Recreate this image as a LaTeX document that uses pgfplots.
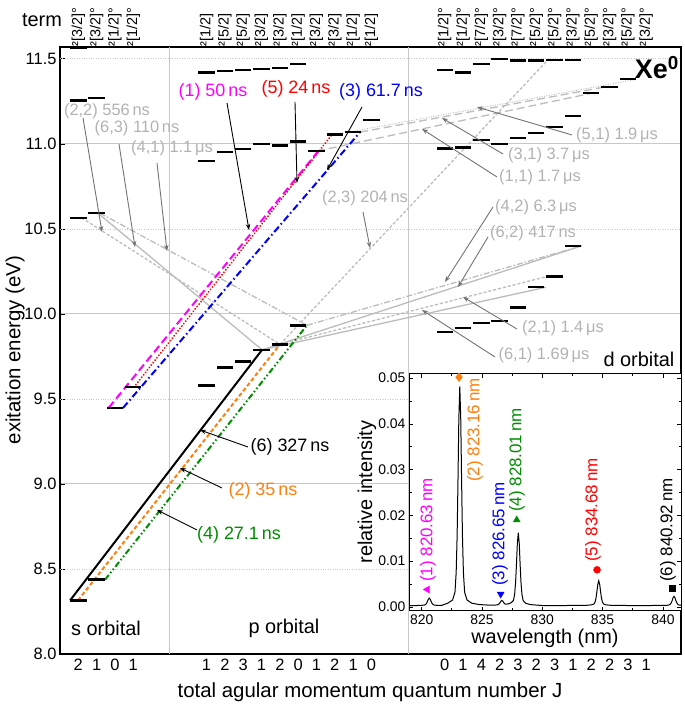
\documentclass[border=0pt]{standalone}
\usepackage{pgfplots}
\pgfplotsset{compat=1.18}
\usepackage{pgfplotstable}
\usepackage{fontspec}
\setmainfont{Liberation Sans}
\usetikzlibrary{arrows.meta}

\definecolor{cmag}{RGB}{255,0,255}
\definecolor{cred}{RGB}{255,0,0}
\definecolor{cblue}{RGB}{0,0,255}
\definecolor{corange}{RGB}{255,127,14}
\definecolor{cgreen}{RGB}{0,140,0}
\definecolor{lgrey}{RGB}{188,188,188}
\definecolor{tgrey}{RGB}{178,178,178}
\definecolor{agrey}{RGB}{115,115,115}
\definecolor{gridgrey}{RGB}{200,200,200}

\newcommand\fs[1]{\fontsize{#1}{#1}\selectfont}

\pgfplotstableread{
x y
1 8.315
2 8.437
3 9.447
4 9.570
1 10.563
2 10.593
1 11.255
2 11.270
1 11.565
8 9.580
9 9.686
10 9.721
11 9.789
12 9.821
13 9.933
8 10.900
9 10.953
10 10.970
11 11.000
12 10.990
13 11.013
8 11.420
9 11.430
10 11.435
11 11.440
12 11.447
13 11.470
14 10.958
15 11.055
16 11.069
17 11.140
21 9.894
22 9.917
23 9.945
24 9.958
25 10.039
26 10.157
27 10.220
28 10.401
21 10.972
22 10.980
23 11.022
24 11.000
25 11.035
26 11.065
27 11.100
28 11.163
29 11.300
30 11.335
31 11.380
21 11.435
22 11.420
23 11.470
24 11.500
25 11.490
26 11.490
27 11.495
28 11.495
}\levels

\pgfplotstableread{
x y
819.00 0.0003
819.63 0.0003
820.03 0.00034
820.23 0.0004
820.33 0.00054
820.41 0.0008
820.48 0.0012
820.55 0.00166
820.63 0.0019
820.71 0.00166
820.78 0.0012
820.85 0.0008
820.93 0.00054
821.03 0.0004
821.23 0.00034
821.63 0.0003
822.16 0.0008
822.56 0.0015
822.76 0.0032
822.86 0.0075
822.94 0.0156
823.01 0.0276
823.08 0.0410
823.16 0.0482
823.24 0.0410
823.31 0.0276
823.38 0.0156
823.46 0.0075
823.56 0.0032
823.76 0.0015
824.16 0.0008
824.80 0.0005
825.50 0.0004
826.05 0.0004
826.25 0.00042
826.35 0.0005
826.43 0.00068
826.50 0.00095
826.57 0.00125
826.65 0.0014
826.73 0.00125
826.80 0.00095
826.87 0.0007
826.95 0.0006
827.05 0.0006
827.25 0.0007
827.41 0.0009
827.61 0.0014
827.71 0.0028
827.79 0.0055
827.86 0.0094
827.93 0.0138
828.01 0.0162
828.09 0.0138
828.16 0.0094
828.23 0.0055
828.31 0.0028
828.41 0.0014
828.61 0.0008
829.01 0.0005
830.00 0.0003
832.00 0.0003
833.68 0.00035
834.08 0.00044
834.28 0.00062
834.38 0.0011
834.46 0.0020
834.53 0.0034
834.60 0.0049
834.68 0.0057
834.76 0.0049
834.83 0.0034
834.90 0.0020
834.98 0.0011
835.08 0.00062
835.28 0.00044
835.68 0.00035
837.00 0.0003
839.00 0.0003
839.92 0.00032
840.32 0.00035
840.52 0.00042
840.62 0.0006
840.70 0.00094
840.77 0.0014
840.84 0.0020
840.92 0.0023
841.00 0.0020
841.07 0.0014
841.14 0.00094
841.22 0.0006
841.32 0.00042
841.50 0.00035
}\spectrum

\begin{document}
\begin{tikzpicture}[x=1bp,y=1bp]
\path[use as bounding box] (0,0) rectangle (685,706);

% ---------------- main diagram ----------------
\begin{axis}[
  at={(60bp,52bp)}, anchor=south west, scale only axis,
  width=621bp, height=607bp,
  xmin=0, xmax=33.9, ymin=8, ymax=11.57,
  axis line style={line width=1.1bp, black},
  xtick={1,2,3,4,8,9,10,11,12,13,14,15,16,17,21,22,23,24,25,26,27,28,29,30,31,32},
  xticklabels={2,1,0,1,1,2,3,1,2,0,1,2,1,0,0,1,4,2,3,2,3,1,2,2,3,1},
  x tick style={draw=none},
  xtick pos=bottom, ytick pos=left,
  ytick={8,8.5,...,11.5},
  y tick style={black, line width=0.8bp},
  major tick length=5bp,
  tick align=inside,
  minor ytick={9,10,11},
  yminorgrids=true,
  minor grid style={gridgrey, line width=1bp},
  minor tick length=0pt,
  extra y ticks={8.5,9.5,10.5,11.5},
  extra y tick labels={},
  extra y tick style={ymajorgrids=true, major grid style={gridgrey, dotted, line width=0.8bp}, major tick length=0pt},
  extra x ticks={6,19},
  extra x tick labels={},
  extra x tick style={xmajorgrids=true, major grid style={gridgrey, line width=1bp}},
  tick label style={font=\fs{16.5}},
  x tick label style={yshift=-2bp},
  y tick label style={/pgf/number format/.cd, fixed, fixed zerofill, precision=1},
  /pgf/number format/assume math mode=true,
]
% grey transitions
\addplot[lgrey, line width=1.3bp, dash pattern=on 3bp off 2bp] coordinates {(1.18,10.565) (12.01,9.821)};
\addplot[lgrey, line width=1.3bp] coordinates {(2.07,10.593) (11.03,9.789)};
\addplot[lgrey, line width=1.3bp, dash pattern=on 6bp off 2bp on 1.5bp off 2bp] coordinates {(2.18,10.593) (13.48,9.933)};
\addplot[lgrey, line width=1.3bp, dash pattern=on 3bp off 2bp] coordinates {(12.01,9.821) (26.64,11.495)};
\addplot[lgrey, line width=1.3bp, dash pattern=on 6bp off 2bp on 1.5bp off 2bp] coordinates {(13.48,9.933) (28.5,10.401)};
\addplot[lgrey, line width=1.3bp] coordinates {(11.03,9.789) (28.5,10.401)};
\addplot[lgrey, line width=1.3bp, dash pattern=on 3bp off 2bp] coordinates {(12.01,9.821) (26.58,10.220)};
\addplot[lgrey, line width=1.3bp] coordinates {(11.03,9.789) (26.53,10.157)};
\addplot[lgrey, line width=0.9bp, dash pattern=on 1bp off 1.5bp] coordinates {(15.01,11.055) (31.5,11.380)};
\addplot[lgrey, line width=1.3bp, dash pattern=on 8bp off 4bp] coordinates {(16.38,11.069) (29.75,11.335)};
\addplot[lgrey, line width=1.3bp, dash pattern=on 8bp off 4bp] coordinates {(14.03,10.958) (29.1,11.300)};
% coloured transitions
\addplot[cmag, line width=2bp, dash pattern=on 8bp off 4bp] coordinates {(2.65,9.447) (14.1,10.958)};
\addplot[cred, line width=2bp, dash pattern=on 0.1bp off 3bp, line cap=round] coordinates {(4.04,9.570) (14.85,11.055)};
\addplot[cblue, line width=2bp, dash pattern=on 7bp off 3bp on 1.5bp off 3bp] coordinates {(3.44,9.447) (16.38,11.069)};
\addplot[black, line width=2bp] coordinates {(0.55,8.315) (11.03,9.789)};
\addplot[corange, line width=2bp, dash pattern=on 4bp off 2.5bp] coordinates {(0.98,8.315) (12.01,9.821)};
\addplot[cgreen, line width=2bp, dash pattern=on 6bp off 2.5bp on 1.5bp off 2.5bp on 1.5bp off 2.5bp] coordinates {(2.46,8.437) (13.48,9.933)};
% energy levels
\addplot[only marks, mark=-, mark size=8.2bp, line width=2.4bp, mark options={line width=2.4bp, black, solid}] table {\levels};
\end{axis}

% ---------------- term labels on top ----------------
\begin{axis}[
  at={(60bp,52bp)}, anchor=south west, scale only axis,
  width=621bp, height=607bp,
  xmin=0, xmax=33.9, ymin=8, ymax=11.57,
  hide y axis, axis x line*=top, x axis line style={draw=none},
  xtick={1,2,3,4,8,9,10,11,12,13,14,15,16,17,21,22,23,24,25,26,27,28,29,30,31,32},
  xticklabels={{²[3/2]°},{²[3/2]°},{²[1/2]°},{²[1/2]°},
    {²[1/2]},{²[5/2]},{²[5/2]},{²[3/2]},{²[3/2]},{²[1/2]},{²[3/2]},{²[3/2]},{²[1/2]},{²[1/2]},
    {²[1/2]°},{²[1/2]°},{²[7/2]°},{²[3/2]°},{²[7/2]°},{²[5/2]°},{²[5/2]°},{²[3/2]°},{²[5/2]°},{²[3/2]°},{²[5/2]°},{²[3/2]°}},
  x tick style={draw=none},
  x tick label style={rotate=90, anchor=west, font=\fs{14.5}, inner sep=0.5bp},
]
\addplot[draw=none, forget plot] coordinates {(1,9)};
\end{axis}

% ---------------- inset spectrum ----------------
\begin{axis}[
  at={(409bp,95bp)}, anchor=south west, scale only axis,
  width=272bp, height=237bp,
  xmin=818.95, xmax=841.5, ymin=-0.0009, ymax=0.0509,
  axis background/.style={fill=white},
  axis line style={line width=1bp, black},
  xtick={820,825,830,835,840}, minor x tick num=1,
  ytick={0,0.01,0.02,0.03,0.04,0.05}, minor y tick num=1,
  tick align=inside, major tick length=4bp, minor tick length=2.5bp,
  tick style={black, line width=0.7bp},
  tick label style={font=\fs{14}},
  scaled y ticks=false,
  y tick label style={/pgf/number format/.cd, fixed, fixed zerofill, precision=2},
  /pgf/number format/assume math mode=true,
]
\addplot[black, line width=1bp] table {\spectrum};
\addplot[only marks, mark=triangle*, mark size=4bp, mark options={rotate=90, fill=cmag, draw=cmag}] coordinates {(820.47,0.0038)};
\addplot[only marks, mark=diamond*, mark size=4.5bp, mark options={fill=corange, draw=corange}] coordinates {(823.1,0.0502)};
\addplot[only marks, mark=triangle*, mark size=4bp, mark options={rotate=180, fill=cblue, draw=cblue}] coordinates {(826.55,0.0028)};
\addplot[only marks, mark=triangle*, mark size=4bp, mark options={fill=cgreen, draw=cgreen}] coordinates {(827.88,0.0190)};
\addplot[only marks, mark=*, mark size=3.5bp, mark options={fill=cred, draw=cred}] coordinates {(834.54,0.0081)};
\addplot[only marks, mark=square*, mark size=3bp, mark options={fill=black, draw=black}] coordinates {(840.76,0.0041)};
\end{axis}

% ---------------- annotations (image pixel coordinates) ----------------
\begin{scope}[x=1bp, y=-1bp, shift={(0bp,706bp)}]
\node[font=\fs{20}] at (42,20) {term};
\node[font=\bfseries\fs{27}, anchor=east, inner sep=0pt] at (679,68) {Xe\textsuperscript{0}};
\node[font=\fs{20.5}] at (370,692) {total agular momentum quantum number J};
\node[font=\fs{20.5}, rotate=90] at (15,350) {exitation energy (eV)};
\node[font=\fs{20}] at (106,628) {s orbital};
\node[font=\fs{20}] at (284,628) {p orbital};
\node[font=\fs{20}] at (639,359) {d orbital};
\node[font=\fs{20}] at (545,638) {wavelength (nm)};
\node[font=\fs{20}, rotate=90] at (367,492) {relative intensity};

% coloured labels
\begin{scope}[font=\fs{18}]
\node[cmag] at (213,92) {(1) 50\,ns};
\node[cred] at (296,89) {(5) 24\,ns};
\node[cblue] at (381,92) {(3) 61.7\,ns};
\node[black] at (290,447) {(6) 327\,ns};
\node[corange] at (263,491) {(2) 35\,ns};
\node[cgreen] at (239,535) {(4) 27.1\,ns};
\end{scope}
\begin{scope}[black, line width=0.9bp, -{Stealth[length=6bp,width=4.5bp]}]
\draw (227,103) -- (249,230);
\draw (295,102) -- (297,183);
\draw (362,107) -- (327,170);
\draw (248,447) -- (200,430);
\draw (222,488) -- (180,468);
\draw (197,530) -- (157,510);
\end{scope}

% grey labels
\begin{scope}[font=\fs{16.5}, text=tgrey]
\node at (107,111) {(2,2) 556\,ns};
\node at (137,128) {(6,3) 110\,ns};
\node at (172,148) {(4,1) 1.1\,μs};
\node at (365,198) {(2,3) 204\,ns};
\node at (617,135) {(5,1) 1.9\,μs};
\node at (549,155) {(3,1) 3.7\,μs};
\node at (540,177) {(1,1) 1.7\,μs};
\node at (536,207) {(4,2) 6.3\,μs};
\node at (533,233) {(6,2) 417\,ns};
\node at (563,328) {(2,1) 1.4\,μs};
\node at (544,355) {(6,1) 1.69\,μs};
\end{scope}
\begin{scope}[agrey, line width=0.9bp, -{Stealth[length=6bp,width=4.5bp]}]
\draw (83,118) -- (102,232);
\draw (119,144) -- (135,247);
\draw (157,163) -- (167,251);
\draw (363,212) -- (370,248);
\draw (572,135) -- (477,107);
\draw (503,154) -- (442,118);
\draw (497,177) -- (422,129);
\draw (493,207) -- (445,282);
\draw (488,237) -- (458,287);
\draw (517,329) -- (463,297);
\draw (495,357) -- (422,310);
\end{scope}

% inset labels
\begin{scope}[font=\fs{17}, inner sep=1bp]
\node[cmag, rotate=90, anchor=west] at (428,583) {(1) 820.63\,nm};
\node[corange, rotate=90, anchor=west] at (475,483) {(2) 823.16\,nm};
\node[cblue, rotate=90, anchor=west] at (500,587) {(3) 826.65\,nm};
\node[cgreen, rotate=90, anchor=west] at (517,513) {(4) 828.01\,nm};
\node[cred, rotate=90, anchor=west] at (593,563) {(5) 834.68\,nm};
\node[black, rotate=90, anchor=west] at (668,583) {(6) 840.92\,nm};
\end{scope}
\end{scope}
\end{tikzpicture}
\end{document}
